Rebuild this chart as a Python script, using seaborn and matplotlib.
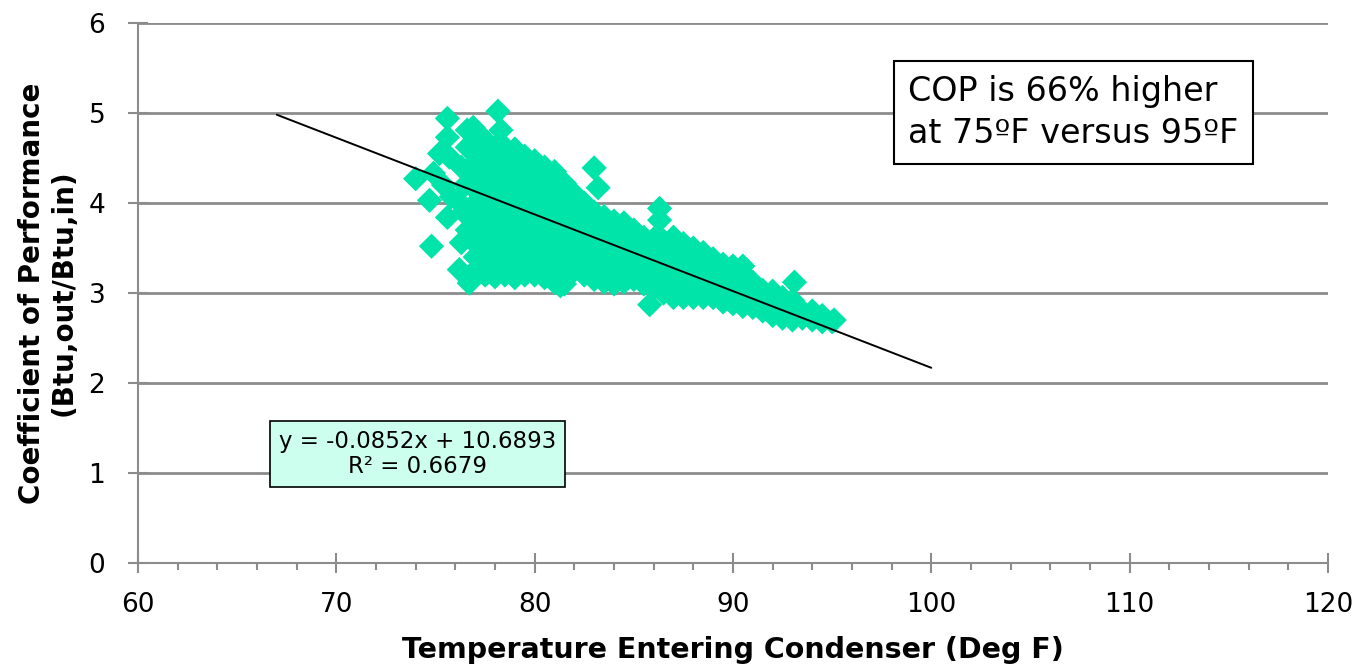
import matplotlib
matplotlib.use("Agg")
import matplotlib.pyplot as plt
from matplotlib.ticker import MultipleLocator
import seaborn as sns
import pandas as pd

# ---- data ----
temp_f = [
    # sparse points on the left
    74.0, 74.7, 74.8, 74.9, 75.2, 75.4, 75.6, 75.6, 75.6, 75.7, 75.8, 76.1, 76.2, 76.3,
    76.3, 76.4, 76.6, 76.6, 76.7, 76.9, 76.5, 76.6,
    # dense core
    77.0, 77.0, 77.0, 77.0, 77.0, 77.0, 77.0, 77.0, 77.0, 77.0, 77.0,
    77.5, 77.5, 77.5, 77.5, 77.5, 77.5, 77.5, 77.5, 77.5, 77.5, 77.5,
    78.0, 78.0, 78.0, 78.0, 78.0, 78.0, 78.0, 78.0, 78.0, 78.0, 78.0,
    78.5, 78.5, 78.5, 78.5, 78.5, 78.5, 78.5, 78.5, 78.5, 78.5, 78.5,
    79.0, 79.0, 79.0, 79.0, 79.0, 79.0, 79.0, 79.0, 79.0, 79.0, 79.0,
    79.5, 79.5, 79.5, 79.5, 79.5, 79.5, 79.5, 79.5, 79.5, 79.5,
    80.0, 80.0, 80.0, 80.0, 80.0, 80.0, 80.0, 80.0, 80.0, 80.0,
    80.5, 80.5, 80.5, 80.5, 80.5, 80.5, 80.5, 80.5, 80.5, 80.5,
    81.0, 81.0, 81.0, 81.0, 81.0, 81.0, 81.0, 81.0, 81.0, 81.0,
    81.5, 81.5, 81.5, 81.5, 81.5, 81.5, 81.5, 81.5, 81.5,
    82.0, 82.0, 82.0, 82.0, 82.0, 82.0, 82.0,
    82.5, 82.5, 82.5, 82.5, 82.5, 82.5, 82.5,
    83.0, 83.0, 83.0, 83.0, 83.0, 83.0,
    83.5, 83.5, 83.5, 83.5, 83.5, 83.5,
    84.0, 84.0, 84.0, 84.0, 84.0, 84.0,
    84.5, 84.5, 84.5, 84.5, 84.5, 84.5,
    85.0, 85.0, 85.0, 85.0, 85.0,
    85.5, 85.5, 85.5, 85.5, 85.5,
    86.0, 86.0, 86.0, 86.0, 86.0,
    86.5, 86.5, 86.5, 86.5, 86.5,
    87.0, 87.0, 87.0, 87.0, 87.0, 87.0,
    87.5, 87.5, 87.5, 87.5, 87.5,
    88.0, 88.0, 88.0, 88.0, 88.0,
    88.5, 88.5, 88.5, 88.5, 88.5,
    89.0, 89.0, 89.0, 89.0, 89.0,
    89.5, 89.5, 89.5, 89.5, 89.5,
    90.0, 90.0, 90.0, 90.0, 90.0,
    90.5, 90.5, 90.5, 90.5, 90.5,
    91.0, 91.0, 91.0, 91.0,
    91.5, 91.5, 91.5,
    92.0, 92.0, 92.0, 92.0,
    92.5, 92.5, 92.5,
    93.0, 93.0, 93.0,
    93.5, 93.5,
    94.0, 94.0,
    94.5, 94.5,
    95.0,
    # stray points
    78.15, 78.3, 83.0, 83.2, 86.3, 86.3, 85.8, 93.1, 95.1, 81.3, 77.6,
]
cop = [
    4.27, 4.03, 3.52, 4.33, 4.55, 4.20, 4.94, 4.73, 3.84, 4.51, 4.07, 4.03, 3.26, 3.56,
    4.40, 3.90, 4.81, 4.62, 3.11, 4.84, 4.20, 3.70,
    3.25, 3.40, 3.55, 3.70, 3.85, 4.00, 4.15, 4.30, 4.45, 4.60, 4.72,
    3.20, 3.35, 3.50, 3.65, 3.80, 3.95, 4.10, 4.25, 4.40, 4.55, 4.70,
    3.18, 3.30, 3.45, 3.60, 3.75, 3.90, 4.05, 4.20, 4.35, 4.50, 4.62,
    3.20, 3.35, 3.50, 3.65, 3.80, 3.95, 4.10, 4.25, 4.40, 4.55, 4.62,
    3.17, 3.30, 3.45, 3.60, 3.75, 3.90, 4.05, 4.20, 4.35, 4.50, 4.60,
    3.20, 3.35, 3.50, 3.65, 3.80, 3.95, 4.10, 4.25, 4.40, 4.52,
    3.20, 3.35, 3.50, 3.65, 3.80, 3.95, 4.10, 4.25, 4.40, 4.47,
    3.17, 3.30, 3.45, 3.60, 3.75, 3.90, 4.05, 4.20, 4.35, 4.40,
    3.12, 3.25, 3.40, 3.55, 3.70, 3.85, 4.00, 4.15, 4.30, 4.35,
    3.10, 3.25, 3.40, 3.55, 3.70, 3.85, 4.00, 4.15, 4.22,
    3.25, 3.40, 3.55, 3.70, 3.85, 4.00, 4.10,
    3.20, 3.35, 3.50, 3.65, 3.80, 3.95, 4.00,
    3.15, 3.30, 3.45, 3.60, 3.75, 3.90,
    3.12, 3.25, 3.40, 3.55, 3.70, 3.85,
    3.10, 3.25, 3.40, 3.55, 3.70, 3.80,
    3.12, 3.25, 3.40, 3.55, 3.68, 3.78,
    3.15, 3.30, 3.45, 3.60, 3.70,
    3.10, 3.25, 3.40, 3.55, 3.62,
    3.05, 3.20, 3.35, 3.50, 3.60,
    3.00, 3.15, 3.30, 3.45, 3.58,
    2.95, 3.10, 3.25, 3.40, 3.55, 3.62,
    2.95, 3.10, 3.25, 3.40, 3.55,
    2.95, 3.10, 3.25, 3.40, 3.50,
    2.95, 3.08, 3.22, 3.35, 3.45,
    2.95, 3.08, 3.20, 3.32, 3.38,
    2.90, 3.03, 3.15, 3.28, 3.32,
    2.88, 3.00, 3.12, 3.25, 3.30,
    2.85, 2.97, 3.10, 3.22, 3.30,
    2.84, 2.95, 3.05, 3.12,
    2.80, 2.92, 3.03,
    2.75, 2.87, 2.98, 3.02,
    2.72, 2.83, 2.95,
    2.70, 2.82, 2.92,
    2.72, 2.80,
    2.70, 2.80,
    2.68, 2.75,
    2.68,
    5.02, 4.81, 4.39, 4.17, 3.94, 3.81, 2.87, 3.12, 2.70, 3.08, 3.22,
]

slope = -0.0852
intercept = 10.6893
trend_x = [67, 100]

x_ticks = [60, 70, 80, 90, 100, 110, 120]
y_ticks = [0, 1, 2, 3, 4, 5, 6]

point_color = "#00E4AA"
grid_color = "#8C8C8C"

df = pd.DataFrame({"temp": temp_f, "cop": cop})
trend_df = pd.DataFrame({"temp": trend_x,
                         "cop": [slope * t + intercept for t in trend_x]})

sns.set_style("white")
plt.rcParams["font.family"] = ["DejaVu Sans"]
plt.rcParams["text.color"] = "black"
plt.rcParams["axes.labelcolor"] = "black"

fig = plt.figure(figsize=(13.61, 6.69), dpi=100)
ax = fig.add_axes([0.1014, 0.1584, 0.8743, 0.8072])

ax.set_axisbelow(True)
ax.yaxis.grid(True, color=grid_color, linewidth=2)
ax.xaxis.grid(False)

sns.scatterplot(data=df, x="temp", y="cop", marker="D", s=165, color=point_color,
                edgecolor="none", linewidth=0, ax=ax, zorder=3)
sns.lineplot(data=trend_df, x="temp", y="cop", color="black", linewidth=1.4,
             ax=ax, zorder=4)

ax.set_xlim(60, 120)
ax.set_ylim(0, 6)
ax.set_xticks(x_ticks)
ax.set_yticks(y_ticks)
ax.xaxis.set_minor_locator(MultipleLocator(2))

for side in ["top", "right"]:
    ax.spines[side].set_visible(False)
for side in ["left", "bottom"]:
    ax.spines[side].set_color(grid_color)
    ax.spines[side].set_linewidth(1.5)

ax.tick_params(axis="x", which="both", bottom=True, top=False)
ax.tick_params(axis="y", which="major", left=True, right=False)
ax.tick_params(axis="both", which="major", direction="inout", length=15,
               width=1.5, color=grid_color, labelsize=19, labelcolor="black")
ax.tick_params(axis="x", which="minor", direction="out", length=5,
               width=1.5, color=grid_color)
ax.tick_params(axis="x", which="major", pad=13)
ax.tick_params(axis="y", which="major", pad=16)

ax.set_xlabel("Temperature Entering Condenser (Deg F)", fontsize=20.5,
              fontweight="bold", labelpad=13)
ax.set_ylabel("Coefficient of Performance\n(Btu,out/Btu,in)", fontsize=20,
              fontweight="bold", labelpad=8, linespacing=1.15)

ax.text(0.2349, 0.2019, "y = -0.0852x + 10.6893\nR\u00b2 = 0.6679",
        transform=ax.transAxes, ha="center", va="center", fontsize=16.5,
        linespacing=1.1,
        bbox=dict(boxstyle="square,pad=0.38", facecolor="#CCFFEE",
                  edgecolor="black", linewidth=1.2), zorder=5)

ax.text(0.6475, 0.834, "COP is 66% higher\nat 75\u00baF versus 95\u00baF",
        transform=ax.transAxes, ha="left", va="center", fontsize=24,
        linespacing=1.33,
        bbox=dict(boxstyle="square,pad=0.42", facecolor="white",
                  edgecolor="black", linewidth=1.5), zorder=5)

fig.savefig("out.png", dpi=100)
